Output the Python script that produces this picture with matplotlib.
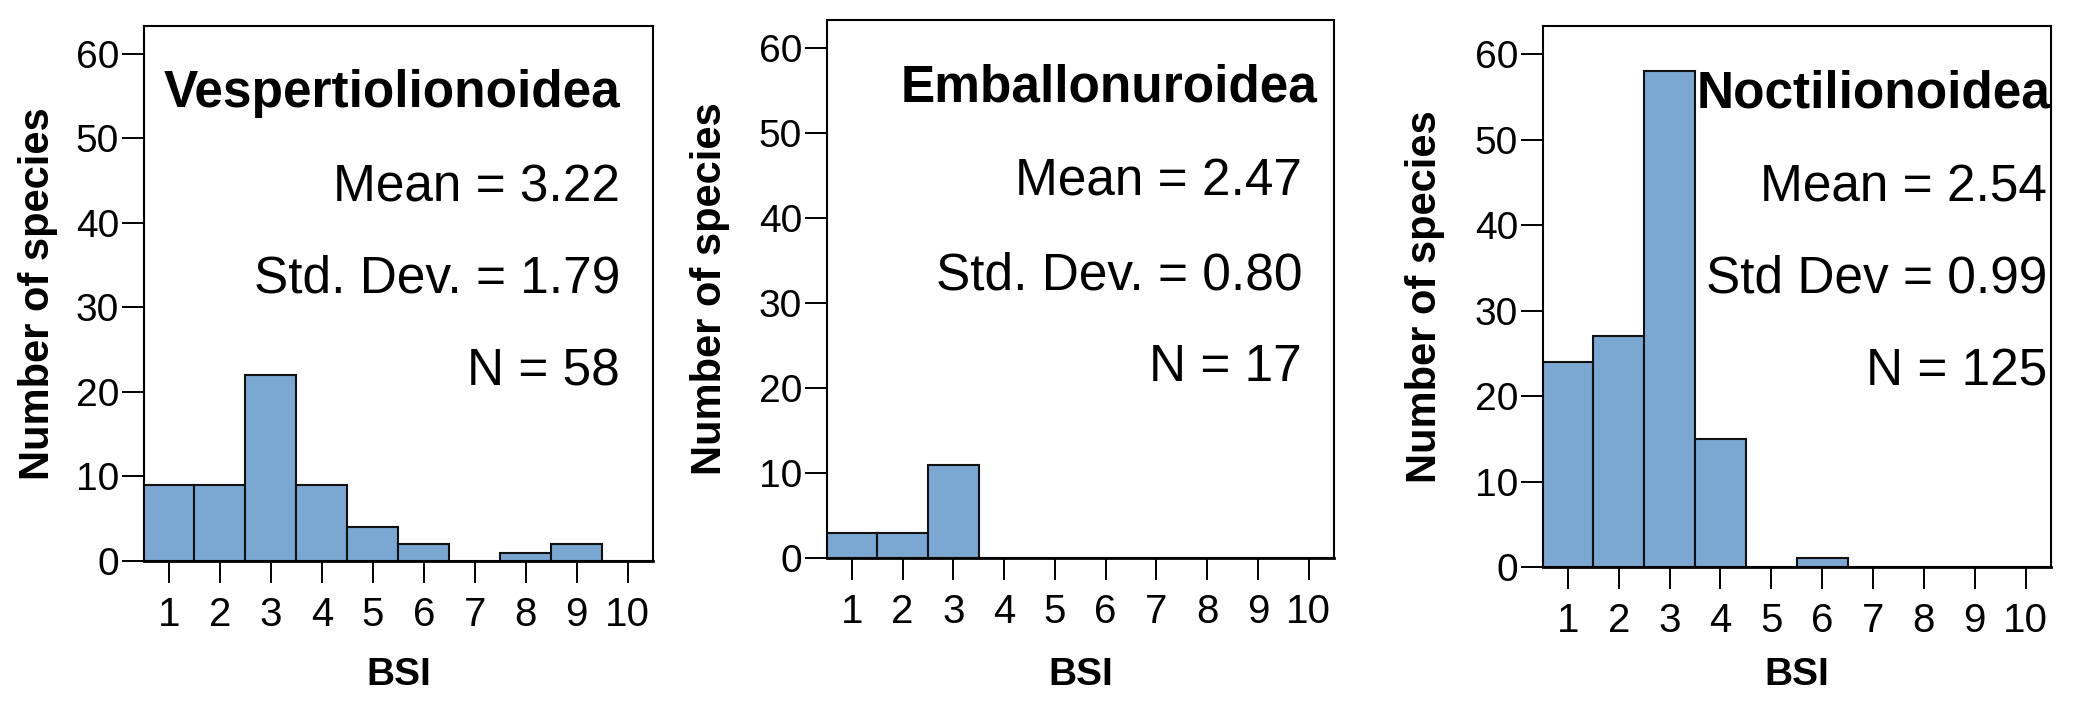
import matplotlib
matplotlib.use("Agg")
import matplotlib.pyplot as plt

plt.rcParams['font.family'] = ['Liberation Sans', 'DejaVu Sans']

W, H = 2079, 716

bsi = [1, 2, 3, 4, 5, 6, 7, 8, 9, 10]
vesp_counts = [9, 9, 22, 9, 4, 2, 0, 1, 2, 0]
emba_counts = [3, 3, 11, 0, 0, 0, 0, 0, 0, 0]
noct_counts = [24, 27, 58, 15, 0, 1, 0, 0, 0, 0]

titles = ["Vespertiolionoidea", "Emballonuroidea", "Noctilionoidea"]
stats = [
    ["Mean = 3.22", "Std. Dev. = 1.79", "N = 58"],
    ["Mean = 2.47", "Std. Dev. = 0.80", "N = 17"],
    ["Mean = 2.54", "Std Dev = 0.99", "N = 125"],
]
yticks = [0, 10, 20, 30, 40, 50, 60]

# axes boxes in pixels: left, right, top, bottom(x-axis)
boxes = [(144, 653, 26, 561), (827, 1334, 20, 558), (1543, 2051, 26, 567)]
# text anchors (right edge x, baselines) in pixels
title_pos = [(620, 107), (1317, 101), (2050, 107)]
stat_x = [620, 1302, 2047]
stat_y = [[201, 292, 386], [195, 289, 381], [201, 292, 386]]
ylab_x = [38, 710, 1425]

fig = plt.figure(figsize=(W / 100, H / 100), dpi=100)


def fx(x):
    return x / W


def fy(y):
    return 1 - y / H


for i, counts in enumerate([vesp_counts, emba_counts, noct_counts]):
    l, r, t, b = boxes[i]
    ax = fig.add_axes([fx(l), fy(b), (r - l) / W, (b - t) / H])
    ax.bar(bsi, counts, width=1, color="#7ba7d3", edgecolor="#111111", linewidth=1.5)
    ax.set_xlim(0.51, 10.5)
    ax.set_ylim(0, 63.3)
    ax.set_xticks(bsi)
    ax.set_yticks(yticks)
    ax.tick_params(axis='x', direction='out', length=16, width=1.4, pad=9, labelsize=29)
    ax.tick_params(axis='y', direction='out', length=16, width=1.4, pad=2, labelsize=28)
    for s in ax.spines.values():
        s.set_linewidth(1.5)
    ax.spines['bottom'].set_linewidth(2)

    fig.text(fx(title_pos[i][0]), fy(title_pos[i][1]), titles[i], ha='right', va='baseline',
             fontsize=37, fontweight='bold')
    for txt, yy in zip(stats[i], stat_y[i]):
        fig.text(fx(stat_x[i]), fy(yy), txt, ha='right', va='baseline', fontsize=37)

    fig.text(fx(ylab_x[i]), fy((t + b) / 2), "Number of species", rotation=90,
             ha='center', va='center', fontsize=30, fontweight='bold')
    fig.text(fx((l + r) / 2), fy(675), "BSI", ha='center', va='center',
             fontsize=28, fontweight='bold')

fig.savefig("out.png", dpi=100)
